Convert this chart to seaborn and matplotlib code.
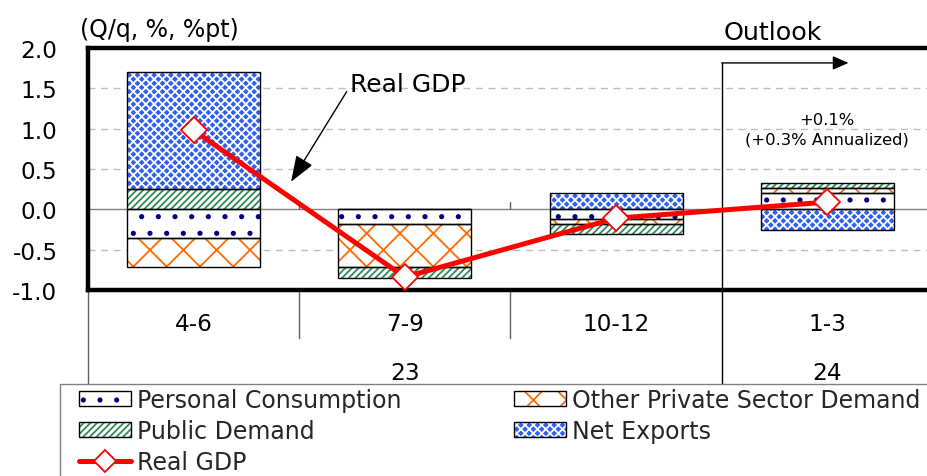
import numpy as np
import matplotlib
matplotlib.use("Agg")
import matplotlib.pyplot as plt
import seaborn as sns
from matplotlib.patches import Patch
from matplotlib.lines import Line2D
from matplotlib.legend_handler import HandlerTuple

# data (contributions, %pt)
quarters = ["4-6", "7-9", "10-12", "1-3"]
years = ["23", "24"]
personal = [-0.36, -0.18, -0.12, 0.20]
other_private = [-0.36, -0.54, -0.06, 0.07]
public = [0.25, -0.13, -0.13, 0.06]
net_exports = [1.45, 0.0, 0.20, -0.26]
real_gdp = [0.98, -0.84, -0.11, 0.09]

sns.set_theme(style="white")
plt.rcParams["font.family"] = ["DejaVu Sans"]
plt.rcParams["hatch.linewidth"] = 1.3

fig = plt.figure(figsize=(9.28, 4.77), dpi=100)
ax = fig.add_axes([88 / 928, 1 - 291 / 477, 1 - 88 / 928, 242 / 477])

x = np.arange(len(quarters))
series = [
    ("Personal Consumption", personal, "white", ".", "#000080"),
    ("Other Private Sector Demand", other_private, "white", "x", "#ff6a00"),
    ("Public Demand", public, "white", "/////", "#2e8b57"),
    ("Net Exports", net_exports, "#3060f0", "xxxx", "white"),
]

pos_base = np.zeros(len(x))
neg_base = np.zeros(len(x))
handles = {}
for name, vals, face, hatch, hcol in series:
    vals = np.array(vals)
    bottoms = np.where(vals >= 0, pos_base, neg_base)
    ax.bar(x, vals, width=0.63, bottom=bottoms, color=face, edgecolor=hcol,
           hatch=hatch, linewidth=0, zorder=2)
    ax.bar(x, vals, width=0.63, bottom=bottoms, fill=False, edgecolor="black",
           linewidth=1, zorder=2.1)
    pos_base += np.where(vals >= 0, vals, 0)
    neg_base += np.where(vals < 0, vals, 0)
    handles[name] = (Patch(facecolor=face, edgecolor=hcol, hatch=hatch, linewidth=0),
                     Patch(fill=False, edgecolor="black", linewidth=1))

sns.lineplot(x=x, y=real_gdp, ax=ax, color="red", linewidth=3.6, marker="D",
             markersize=13, markerfacecolor="white", markeredgecolor="red",
             markeredgewidth=1.3, zorder=4)

ax.set_xlim(-0.5, -0.5 + 840 / 211.25)
ax.set_ylim(-1.0, 2.0)
ax.set_yticks([-1.0, -0.5, 0.0, 0.5, 1.0, 1.5, 2.0])
ax.set_yticklabels([f"{v:.1f}" for v in [-1.0, -0.5, 0.0, 0.5, 1.0, 1.5, 2.0]])
ax.tick_params(axis="y", length=0, pad=22, labelsize=16.7, colors="black")
ax.set_xticks([])
for v in [-0.5, 0.5, 1.0, 1.5]:
    ax.axhline(v, color="#bdbdbd", lw=1, ls=(0, (5, 4)), zorder=0)
ax.axhline(0, color="#808080", lw=1, zorder=1)
for side in ["left", "top", "bottom"]:
    ax.spines[side].set_linewidth(3.2)
    ax.spines[side].set_color("black")
ax.spines["right"].set_visible(False)

# category axis below the plot
line_kw = dict(color="#606060", lw=1, clip_on=False, zorder=1)
ax.plot([-0.5, -0.5], [-1.0, -2.16], **line_kw)
for b in [0.5, 1.5]:
    ax.plot([b, b], [-1.0, -1.6], **line_kw)
    ax.plot([b, b], [0, 0.09], **line_kw)
for i, q in enumerate(quarters):
    ax.text(i, -1.42, q, ha="center", va="center", fontsize=16.7, color="black")
ax.text(1.0, -2.02, years[0], ha="center", va="center", fontsize=16.7, color="black")
ax.text(3.0, -2.02, years[1], ha="center", va="center", fontsize=16.7, color="black")

# outlook marker
ax.plot([2.5, 2.5], [1.815, -2.16], color="black", lw=1, clip_on=False, zorder=3)
ax.annotate("", xy=(3.1, 1.815), xytext=(2.5, 1.815),
            arrowprops=dict(arrowstyle="-|>,head_length=0.8,head_width=0.35",
                            color="black", lw=1, shrinkA=0, shrinkB=0))
ax.text(2.51, 2.2, "Outlook", ha="left", va="center", fontsize=18.3,
        color="black", clip_on=False)
ax.text(3.0, 0.99, "+0.1%\n(+0.3% Annualized)", ha="center", va="center",
        fontsize=11.8, color="black", linespacing=1.4)

# Real GDP label
ax.annotate("Real GDP", xy=(0.461, 0.341), xytext=(0.74, 1.555),
            ha="left", va="center", fontsize=18, color="black",
            arrowprops=dict(arrowstyle="-|>,head_length=0.9,head_width=0.33",
                            color="black", lw=1, shrinkA=0, shrinkB=0,
                            relpos=(0, 0.4)))

fig.text(80 / 928, 1 - 30 / 477, "(Q/q, %, %pt)", ha="left", va="center",
         fontsize=17, color="black")

# legend frame (only top and left edges visible)
fig.add_artist(Line2D([60 / 928, 1], [1 - 385 / 477] * 2, color="#808080", lw=1))
fig.add_artist(Line2D([60 / 928] * 2, [0, 1 - 385 / 477], color="#808080", lw=1))

gdp_handle = Line2D([], [], color="red", lw=3.6, marker="D", markersize=11,
                    markerfacecolor="white", markeredgecolor="red", markeredgewidth=1.3)
order = ["Personal Consumption", "Public Demand", "Real GDP",
         "Other Private Sector Demand", "Net Exports"]
hs = [handles.get(n, gdp_handle) for n in order]
fig.legend(hs, order, loc="upper left", bbox_to_anchor=(79 / 928, 1 - 389 / 477),
           ncol=2, frameon=False, fontsize=17.0, handlelength=2.22, handleheight=0.62,
           handletextpad=0.25, columnspacing=4.75, labelspacing=0.3, borderpad=0,
           borderaxespad=0, numpoints=1,
           handler_map={tuple: HandlerTuple(ndivide=1)})

fig.savefig("out.png", dpi=100)
